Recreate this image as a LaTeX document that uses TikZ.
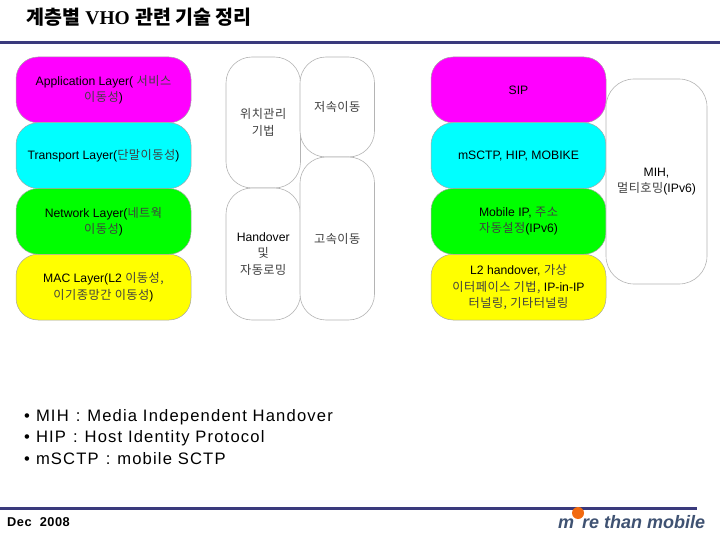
\documentclass[tikz,border=0pt]{standalone}
\usepackage{fontspec}
\setmainfont{Liberation Sans}
\newfontfamily\krfont[LetterSpace=4]{Noto Sans CJK KR}
\newfontfamily\krtitle{Noto Sans CJK KR}
\newfontfamily\titlefont{Liberation Serif}
\newcommand{\kr}[1]{{\krfont\color{black!75}#1}}
\usetikzlibrary{positioning}
\definecolor{ruleblue}{HTML}{3A3A7C}
\definecolor{logoblue}{HTML}{3F5272}
\definecolor{logodot}{HTML}{F26A10}
\definecolor{grayline}{HTML}{B4B4B4}
\definecolor{appcol}{RGB}{255,0,255}
\definecolor{transcol}{RGB}{0,255,255}
\definecolor{netcol}{RGB}{0,255,0}
\definecolor{maccol}{RGB}{255,255,0}
\begin{document}
\begin{tikzpicture}[
    x = 1pt, y = -1pt,
    node distance = 0pt and 0pt,
    layer/.style = {draw=black!35, line width=0.5pt, rounded corners=22pt, minimum width=175pt,
                    minimum height=65.75pt, outer sep=0pt, inner sep=0pt, align=center,
                    font=\fontsize{12.2}{16.2}\selectfont},
    side/.style  = {draw=grayline, line width=0.6pt, fill=white, rounded corners=26pt, minimum width=74.5pt,
                    outer sep=0pt, inner sep=0pt, align=center,
                    font=\fontsize{12.2}{16.2}\selectfont},
    rulebar/.style = {ruleblue, line width=3pt},
    note/.style  = {anchor=west, inner sep=0pt, text height=13pt, text depth=4pt,
                    font=\fontsize{16.6}{18}\selectfont\addfontfeature{LetterSpace=7}},
  ]
  \useasboundingbox (0,0) rectangle (720,540);
  \node[anchor=west, inner sep=0pt, font=\fontsize{19.5}{22}\selectfont] (title) at (26,17)
    {{\krtitle\bfseries 계층별} {\titlefont\bfseries VHO} {\krtitle\bfseries 관련 기술 정리}};
  \coordinate (topl) at (0,43);
  \coordinate (topr) at (720,43);
  \draw[rulebar] (topl) -- (topr);

  % left stack
  \node[layer, fill=appcol, anchor=north west] (app) at (16,57)
    {Application Layer( \kr{서비스}\\\kr{이동성})};
  \node[layer, fill=transcol, below=of app] (trans) {Transport Layer(\kr{단말이동성})};
  \node[layer, fill=netcol, below=of trans] (net) {Network Layer(\kr{네트웍}\\\kr{이동성})};
  \node[layer, fill=maccol, below=of net] (mac) {MAC Layer(L2 \kr{이동성,}\\\kr{이기종망간 이동성})};

  % middle columns
  \node[side, minimum height=131pt, anchor=north west] (loc) at (226,57) {\kr{위치관리}\\\kr{기법}};
  \node[side, minimum height=132pt, below=of loc] (hand) {Handover\\\kr{및}\\\kr{자동로밍}};
  \node[side, minimum height=100pt, anchor=north west] (slow) at (300,57) {\kr{저속이동}};
  \node[side, minimum height=163pt, below=of slow] (fast) {\kr{고속이동}};

  % right stack
  \node[layer, fill=appcol, anchor=north west] (sip) at (431,57) {SIP};
  \node[layer, fill=transcol, below=of sip] (msctp) {mSCTP, HIP, MOBIKE};
  \node[layer, fill=netcol, below=of msctp] (mip) {Mobile IP, \kr{주소}\\\kr{자동설정}(IPv6)};
  \node[layer, fill=maccol, below=of mip] (ltwo)
    {L2 handover, \kr{가상}\\\kr{이터페이스 기법,} IP-in-IP\\\kr{터널링, 기타터널링}};
  \node[side, minimum width=101pt, minimum height=205pt, rounded corners=28pt, anchor=north west] (mih) at (606,79)
    {MIH,\\\kr{멀티호밍}(IPv6)};

  % notes
  \node[note] (n1) at (24,417) {•\hspace{6pt}MIH\hspace{7pt}:\hspace{7pt}Media Independent Handover};
  \node[note, below=4pt of n1.south west, anchor=north west] (n2) {•\hspace{6pt}HIP\hspace{7pt}:\hspace{7pt}Host Identity Protocol};
  \node[note, below=4pt of n2.south west, anchor=north west] (n3) {•\hspace{6pt}mSCTP\hspace{7pt}:\hspace{7pt}mobile SCTP};

  \coordinate (botl) at (0,508);
  \coordinate (botr) at (697,508);
  \draw[rulebar] (botl) -- (botr);
  \node[anchor=west, inner sep=0pt, font=\fontsize{12.8}{14}\selectfont\bfseries\addfontfeature{LetterSpace=4}] (date) at (7,522) {Dec\ \ 2008};
  \node[anchor=west, inner sep=0pt, text=logoblue, font=\fontsize{18}{20}\selectfont\bfseries\itshape] (logo) at (558,522) {m\hspace{8pt}re than mobile};
  \node[circle, fill=logodot, minimum size=12pt, inner sep=0pt] (dot) at (578,513) {};
\end{tikzpicture}
\end{document}
